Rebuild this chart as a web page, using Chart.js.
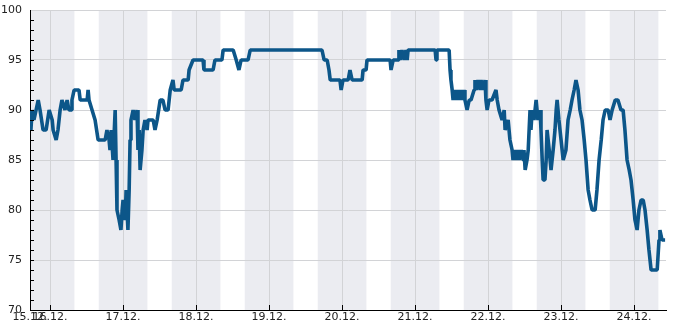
<!DOCTYPE html>
<html>
<head>
<meta charset="utf-8">
<script src="https://cdn.jsdelivr.net/npm/chart.js@4"></script>
<style>
html,body{margin:0;padding:0;background:#fff;}
#wrap{width:685px;height:330px;position:relative;}
</style>
</head>
<body>
<div id="wrap"><canvas id="c" width="685" height="330"></canvas></div>
<script>
// Hours since 16.12. 00:00
const hours = [-6.6,-6.3,-5.9,-5.3,-4.6,-3.9,-3.3,-2.3,-1.3,-0.3,0.7,1.0,2.0,2.6,3.3,3.9,4.9,5.6,6.2,6.9,7.2,7.9,9.5,9.9,12.2,12.5,12.8,13.8,14.8,15.8,18.1,18.7,19.4,19.7,20.1,20.7,21.4,21.7,22.0,22.7,23.3,23.7,24.0,24.7,25.0,25.6,26.0,26.3,26.6,27.3,27.9,28.6,28.9,29.3,29.6,30.2,30.6,31.2,31.9,32.2,33.9,34.5,35.2,36.2,37.1,37.8,38.8,39.5,40.4,40.8,43.1,43.7,45.4,45.7,47.0,50.3,50.6,53.6,54.2,56.5,56.9,60.2,61.2,62.1,62.8,65.1,65.8,89.4,90.1,91.1,91.7,92.1,95.3,95.7,96.3,98.0,98.6,99.3,102.6,102.9,103.9,104.2,111.8,112.1,112.8,114.4,114.7,115.1,115.7,116.4,117.0,117.4,117.7,126.6,126.9,127.2,131.2,131.5,131.8,132.2,132.5,133.2,133.5,134.1,134.5,135.1,135.5,136.1,136.4,137.1,137.8,138.4,139.4,139.7,140.1,140.7,141.4,141.7,142.4,143.0,143.3,143.7,144.3,145.3,146.6,147.0,147.6,148.6,149.3,149.6,150.6,151.2,151.9,152.2,152.9,153.2,153.9,154.2,154.9,155.5,155.8,156.2,156.8,157.2,157.8,158.1,158.5,159.1,159.8,160.4,161.1,161.4,161.8,162.1,162.7,163.1,163.4,164.1,164.7,165.4,166.0,166.4,166.7,167.3,168.0,168.7,169.6,170.3,171.0,171.6,172.3,172.9,173.6,174.2,174.9,175.6,176.2,176.9,177.5,178.2,179.2,179.8,180.5,181.2,181.8,182.5,183.5,184.1,184.8,185.8,186.7,187.7,188.4,189.0,189.7,190.4,191.0,191.7,192.3,193.0,193.6,194.3,195.0,195.6,196.3,196.9,197.6,199.6,200.2,200.5,201.2,202.2];
const humidity = [90,88,90,89,90,91,90,88,88,90,89,88,87,88,90,91,90,91,90,90,91,92,92,91,91,92,91,90,89,87,87,88,87,86,88,85,90,85,80,79,78,80,81,79,82,78,82,87,89,90,89,90,86,88,84,86,88,89,88,89,89,88,89,91,91,90,90,92,93,92,92,93,93,94,95,95,94,94,95,95,96,96,95,94,95,95,96,96,95,95,94,93,93,92,93,93,94,93,93,94,94,95,95,94,95,95,96,95,96,95,96,95,96,96,95,96,96,94,93,92,91,92,91,92,91,92,91,92,91,90,91,91,92,93,92,93,92,93,92,93,91,90,91,91,92,91,90,89,90,88,89,87,86,85,86,85,86,85,86,85,86,84,85,86,90,88,90,89,91,89,90,88,85,83,83,85,88,86,84,86,88,90,91,89,87,85,86,89,90,91,92,93,92,90,89,87,85,82,81,80,80,82,85,87,89,90,90,89,90,91,91,90,90,88,85,84,83,81,79,78,80,81,81,80,78,76,74,74,77,78,77,77];
const xMin = -6.6, xMax = 202.5;
const dayHours = [0,24,48,72,96,120,144,168,192];
const dayLabels = ["16.12.","17.12.","18.12.","19.12.","20.12.","21.12.","22.12.","23.12.","24.12."];
const startLabel = "15.12.";
const yTicks = [70,75,80,85,90,95,100];

const FONT = "'DejaVu Sans', sans-serif";

const bgPlugin = {
  id: 'nightBands',
  beforeDraw(chart) {
    const {ctx, chartArea: a, scales: {x}} = chart;
    ctx.save();
    ctx.fillStyle = '#ebecf1';
    for (let d = -1; d <= 9; d++) {
      const s = Math.max(d * 24 - 8, xMin), e = Math.min(d * 24 + 8, xMax);
      if (e <= s) continue;
      const px1 = x.getPixelForValue(s), px2 = x.getPixelForValue(e);
      ctx.fillRect(px1, a.top, px2 - px1, a.bottom - a.top);
    }
    ctx.restore();
  },
  afterDatasetsDraw(chart) {
    const {ctx, chartArea: a, scales: {x, y}} = chart;
    ctx.save();
    ctx.strokeStyle = '#000';
    ctx.lineWidth = 1;
    ctx.beginPath();
    for (let v = 71; v < 100; v++) {
      const py = Math.round(y.getPixelForValue(v)) + 0.5;
      ctx.moveTo(a.left, py); ctx.lineTo(a.left + 4, py);
    }
    for (const h of dayHours) {
      const px = Math.round(x.getPixelForValue(h)) + 0.5;
      ctx.moveTo(px, a.bottom); ctx.lineTo(px, a.bottom - 5);
    }
    ctx.stroke();
    ctx.restore();
  }
};

new Chart(document.getElementById('c'), {
  type: 'line',
  data: {
    datasets: [{
      data: hours.map((h, i) => ({x: h, y: humidity[i]})),
      borderColor: '#0c5689',
      borderWidth: 3.6,
      borderJoinStyle: 'bevel',
      pointRadius: 0,
      tension: 0,
      fill: false
    }]
  },
  options: {
    responsive: false,
    animation: false,
    events: [],
    layout: {padding: {top: 10, right: 19, left: 0, bottom: 0}},
    plugins: {legend: {display: false}, tooltip: {enabled: false}},
    scales: {
      x: {
        type: 'linear',
        min: xMin, max: xMax,
        afterBuildTicks(s) {
          s.ticks = [{value: xMin}].concat(dayHours.map(v => ({value: v})));
        },
        afterFit(s) { s.height = 20; s.paddingLeft = 0; s.paddingRight = 0; },
        ticks: {
          autoSkip: false, maxRotation: 0, minRotation: 0, padding: 1,
          color: '#222', font: {family: FONT, size: 11},
          callback(v) {
            if (Math.abs(v - xMin) < 0.01) return startLabel;
            const i = dayHours.indexOf(v);
            return i >= 0 ? dayLabels[i] : '';
          }
        },
        grid: {color: '#d2d3d6', lineWidth: 1, drawTicks: false},
        border: {display: true, color: '#000', width: 1}
      },
      y: {
        min: 70, max: 100,
        afterBuildTicks(s) { s.ticks = yTicks.map(v => ({value: v})); },
        afterFit(s) { s.width = 30; s.paddingTop = 0; s.paddingBottom = 0; },
        ticks: {padding: 8, color: '#222', font: {family: FONT, size: 11}},
        grid: {color: '#d2d3d6', lineWidth: 1, drawTicks: false},
        border: {display: true, color: '#000', width: 1}
      }
    }
  },
  plugins: [bgPlugin]
});
</script>
</body>
</html>
